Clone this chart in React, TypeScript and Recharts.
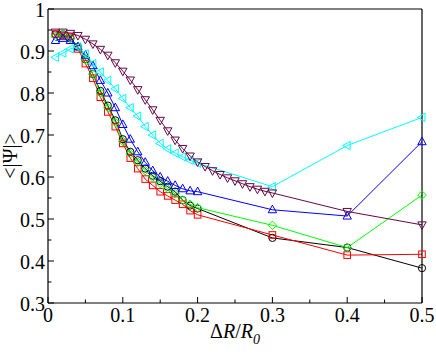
import React from "react";
import { LineChart, Line, XAxis, YAxis } from "recharts";

// x positions of the sampled points
const X_MAIN = [
  0.01, 0.02, 0.03, 0.04, 0.05, 0.06, 0.07, 0.08, 0.09, 0.1,
  0.11, 0.12, 0.13, 0.14, 0.15, 0.16, 0.17, 0.18, 0.19, 0.2,
  0.3, 0.4, 0.5,
];
const X_MAROON = [
  0.01, 0.02, 0.03, 0.04, 0.05, 0.06, 0.07, 0.08, 0.09, 0.1,
  0.11, 0.12, 0.13, 0.14, 0.15, 0.16, 0.17, 0.18, 0.19, 0.2,
  0.21, 0.22, 0.23, 0.24, 0.25, 0.26, 0.27, 0.28, 0.29, 0.3,
  0.4, 0.5,
];

const BLACK = [
  0.94, 0.94, 0.93, 0.91, 0.88, 0.845, 0.805, 0.77, 0.735, 0.69,
  0.66, 0.64, 0.62, 0.603, 0.59, 0.577, 0.565, 0.545, 0.532, 0.525,
  0.455, 0.432, 0.383,
];
const RED = [
  0.94, 0.935, 0.935, 0.905, 0.87, 0.835, 0.79, 0.755, 0.72, 0.68,
  0.645, 0.62, 0.595, 0.58, 0.565, 0.555, 0.545, 0.535, 0.52, 0.51,
  0.462, 0.414, 0.416,
];
const GREEN = [
  0.935, 0.94, 0.93, 0.91, 0.88, 0.845, 0.8, 0.765, 0.73, 0.685,
  0.655, 0.635, 0.615, 0.6, 0.585, 0.572, 0.56, 0.545, 0.535, 0.527,
  0.485, 0.432, 0.557,
];
const BLUE = [
  0.925, 0.93, 0.925, 0.91, 0.89, 0.865, 0.83, 0.8, 0.765, 0.725,
  0.69, 0.66, 0.635, 0.615, 0.6, 0.59, 0.58, 0.572, 0.567, 0.565,
  0.522, 0.507, 0.684,
];
const CYAN = [
  0.885, 0.895, 0.905, 0.91, 0.893, 0.87, 0.85, 0.83, 0.81, 0.787,
  0.765, 0.745, 0.72, 0.7, 0.68, 0.667, 0.657, 0.648, 0.64, 0.633,
  0.577, 0.675, 0.742,
];
const MAROON = [
  0.945, 0.945, 0.942, 0.937, 0.928, 0.917, 0.904, 0.89, 0.872, 0.852,
  0.831, 0.808, 0.784, 0.76, 0.735, 0.71, 0.688, 0.668, 0.65, 0.636,
  0.625, 0.615, 0.606, 0.598, 0.591, 0.584, 0.577, 0.571, 0.566, 0.562,
  0.518, 0.486,
];

const X_TICKS = [0, 0.05, 0.1, 0.15, 0.2, 0.25, 0.3, 0.35, 0.4, 0.45, 0.5];
const Y_TICKS = [0.3, 0.35, 0.4, 0.45, 0.5, 0.55, 0.6, 0.65, 0.7, 0.75, 0.8, 0.85, 0.9, 0.95, 1];

const FONT = "'Liberation Serif', 'DejaVu Serif', serif";

const toRows = (xs: number[], ys: number[]) => xs.map((x, i) => ({ x, y: ys[i] }));

const isMajor = (v: number) => Math.abs(v * 10 - Math.round(v * 10)) < 1e-6;

type Shape = "circle" | "square" | "diamond" | "up" | "left" | "down";

function marker(shape: Shape, color: string) {
  return (props: any) => {
    const { cx, cy, index } = props;
    const k = `m-${shape}-${index}`;
    if (cx == null || cy == null) return <g key={k} />;
    const common = { fill: "none", stroke: color, strokeWidth: 1 };
    switch (shape) {
      case "circle":
        return <circle key={k} cx={cx} cy={cy} r={3.6} {...common} />;
      case "square":
        return <rect key={k} x={cx - 3.3} y={cy - 3.3} width={6.6} height={6.6} {...common} />;
      case "diamond":
        return <path key={k} d={`M${cx},${cy - 4.3}L${cx + 4.3},${cy}L${cx},${cy + 4.3}L${cx - 4.3},${cy}Z`} {...common} />;
      case "up":
        return <path key={k} d={`M${cx},${cy - 4.6}L${cx + 4.2},${cy + 3}L${cx - 4.2},${cy + 3}Z`} {...common} />;
      case "left":
        return <path key={k} d={`M${cx - 4.6},${cy}L${cx + 3},${cy - 4.2}L${cx + 3},${cy + 4.2}Z`} {...common} />;
      default:
        return <path key={k} d={`M${cx},${cy + 4.6}L${cx + 4.2},${cy - 3}L${cx - 4.2},${cy - 3}Z`} {...common} />;
    }
  };
}

// ticks drawn inward, labels only on the bottom and left sides
function BottomTick(props: any) {
  const { x, y, payload } = props;
  const v = payload.value as number;
  const major = isMajor(v);
  return (
    <g>
      <line x1={x} y1={y} x2={x} y2={y - (major ? 6 : 3.5)} stroke="#000" />
      {major && (
        <text x={x} y={y + 19} textAnchor="middle" fontSize={20} fontFamily={FONT} fill="#000">
          {String(Math.round(v * 10) / 10)}
        </text>
      )}
    </g>
  );
}

function TopTick(props: any) {
  const { x, y, payload } = props;
  const major = isMajor(payload.value);
  return <line x1={x} y1={y} x2={x} y2={y + (major ? 6 : 3.5)} stroke="#000" />;
}

function LeftTick(props: any) {
  const { x, y, payload } = props;
  const v = payload.value as number;
  const major = isMajor(v);
  return (
    <g>
      <line x1={x} y1={y} x2={x + (major ? 6 : 3.5)} y2={y} stroke="#000" />
      {major && (
        <text x={x - 3} y={y + 7.5} textAnchor="end" fontSize={20} fontFamily={FONT} fill="#000">
          {String(Math.round(v * 10) / 10)}
        </text>
      )}
    </g>
  );
}

function RightTick(props: any) {
  const { x, y, payload } = props;
  const major = isMajor(payload.value);
  return <line x1={x} y1={y} x2={x - (major ? 6 : 3.5)} y2={y} stroke="#000" />;
}

function XTitle(props: any) {
  const { viewBox } = props;
  const cx = viewBox.x + viewBox.width / 2;
  return (
    <text x={cx} y={viewBox.y + 35} textAnchor="middle" fontSize={20} fontFamily={FONT} fill="#000">
      Δ<tspan fontStyle="italic">R</tspan>/<tspan fontStyle="italic">R</tspan>
      <tspan fontStyle="italic" fontSize={14} dy={6}>0</tspan>
    </text>
  );
}

function YTitle(props: any) {
  const { viewBox } = props;
  const cy = viewBox.y + viewBox.height / 2;
  return (
    <text
      x={17}
      y={cy}
      transform={`rotate(-90, 17, ${cy})`}
      textAnchor="middle"
      fontSize={20}
      fontFamily={FONT}
      fill="#000"
    >
      {"<|Ψ|>"}
    </text>
  );
}

const SERIES = [
  { name: "black", color: "#000000", shape: "circle" as Shape, xs: X_MAIN, ys: BLACK },
  { name: "red", color: "#ff0000", shape: "square" as Shape, xs: X_MAIN, ys: RED },
  { name: "green", color: "#00ff00", shape: "diamond" as Shape, xs: X_MAIN, ys: GREEN },
  { name: "blue", color: "#0000ff", shape: "up" as Shape, xs: X_MAIN, ys: BLUE },
  { name: "cyan", color: "#00ffff", shape: "left" as Shape, xs: X_MAIN, ys: CYAN },
  { name: "maroon", color: "#670748", shape: "down" as Shape, xs: X_MAROON, ys: MAROON },
];

export default function App() {
  return (
    <div style={{ width: 436, height: 354, background: "#fff" }}>
      <style>{"body{margin:0}"}</style>
      <LineChart width={436} height={354} margin={{ top: 8, right: 13, bottom: 0, left: 0 }}>
        <XAxis
          xAxisId="bottom"
          dataKey="x"
          type="number"
          domain={[0, 0.5]}
          ticks={X_TICKS}
          interval={0}
          height={51}
          tickSize={0}
          tickMargin={0}
          tickLine={false}
          axisLine={{ stroke: "#000", strokeWidth: 1.2 }}
          tick={<BottomTick />}
          label={{ content: <XTitle /> }}
        />
        <XAxis
          xAxisId="top"
          orientation="top"
          dataKey="x"
          type="number"
          domain={[0, 0.5]}
          ticks={X_TICKS}
          interval={0}
          height={1}
          tickSize={0}
          tickMargin={0}
          tickLine={false}
          axisLine={{ stroke: "#000", strokeWidth: 1.2 }}
          tick={<TopTick />}
        />
        <YAxis
          yAxisId="left"
          type="number"
          domain={[0.3, 1]}
          ticks={Y_TICKS}
          interval={0}
          width={48}
          tickSize={0}
          tickMargin={0}
          tickLine={false}
          axisLine={{ stroke: "#000", strokeWidth: 1.2 }}
          tick={<LeftTick />}
          label={{ content: <YTitle /> }}
        />
        <YAxis
          yAxisId="right"
          orientation="right"
          type="number"
          domain={[0.3, 1]}
          ticks={Y_TICKS}
          interval={0}
          width={1}
          tickSize={0}
          tickMargin={0}
          tickLine={false}
          axisLine={{ stroke: "#000", strokeWidth: 1.2 }}
          tick={<RightTick />}
        />
        {SERIES.map((s) => (
          <Line
            key={s.name}
            xAxisId="bottom"
            yAxisId="left"
            data={toRows(s.xs, s.ys)}
            dataKey="y"
            type="linear"
            stroke={s.color}
            strokeWidth={1}
            dot={marker(s.shape, s.color)}
            activeDot={false}
            isAnimationActive={false}
          />
        ))}
      </LineChart>
    </div>
  );
}
